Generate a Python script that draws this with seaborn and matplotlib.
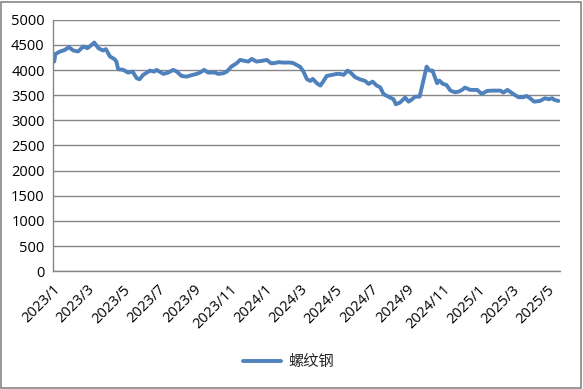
import pandas as pd
import matplotlib
matplotlib.use("Agg")
import matplotlib.pyplot as plt
import matplotlib.dates as mdates
import seaborn as sns

# rebar price (螺纹钢)
dates = [
    "2023-01-03", "2023-01-05", "2023-01-13", "2023-01-21", "2023-01-28", "2023-02-05",
    "2023-02-13", "2023-02-22", "2023-03-01", "2023-03-05", "2023-03-13", "2023-03-20",
    "2023-03-28", "2023-04-02", "2023-04-09", "2023-04-17", "2023-04-20", "2023-04-23",
    "2023-05-02", "2023-05-10", "2023-05-18", "2023-05-25", "2023-05-30", "2023-06-05",
    "2023-06-17", "2023-06-24", "2023-06-28", "2023-07-10", "2023-07-18", "2023-07-27",
    "2023-08-02", "2023-08-10", "2023-08-19", "2023-08-27", "2023-09-05", "2023-09-11",
    "2023-09-18", "2023-09-25", "2023-10-07", "2023-10-12", "2023-10-21", "2023-10-27",
    "2023-11-04", "2023-11-13", "2023-11-19", "2023-11-27", "2023-12-03", "2023-12-09",
    "2023-12-17", "2023-12-26", "2024-01-04", "2024-01-11", "2024-01-16", "2024-01-24",
    "2024-02-01", "2024-02-13", "2024-02-19", "2024-02-27", "2024-03-01", "2024-03-07",
    "2024-03-13", "2024-03-19", "2024-03-23", "2024-03-30", "2024-04-05", "2024-04-10",
    "2024-04-16", "2024-04-25", "2024-05-03", "2024-05-09", "2024-05-15", "2024-05-22",
    "2024-05-27", "2024-06-04", "2024-06-12", "2024-06-21", "2024-06-27", "2024-07-04",
    "2024-07-11", "2024-07-17", "2024-07-23", "2024-07-31", "2024-08-09", "2024-08-13",
    "2024-08-20", "2024-08-29", "2024-09-04", "2024-09-10", "2024-09-15", "2024-09-23",
    "2024-10-05", "2024-10-10", "2024-10-15", "2024-10-23", "2024-10-27", "2024-11-02",
    "2024-11-08", "2024-11-15", "2024-11-23", "2024-11-29", "2024-12-05", "2024-12-10",
    "2024-12-19", "2024-12-31", "2025-01-08", "2025-01-17", "2025-01-28", "2025-02-09",
    "2025-02-14", "2025-02-21", "2025-03-03", "2025-03-12", "2025-03-20", "2025-03-26",
    "2025-04-01", "2025-04-08", "2025-04-18", "2025-04-27", "2025-05-03", "2025-05-09",
    "2025-05-13", "2025-05-20",
]
prices = [
    4170, 4320, 4370, 4400, 4455, 4390,
    4370, 4470, 4436, 4470, 4548, 4436,
    4390, 4416, 4270, 4216, 4170, 4018,
    4004, 3951, 3970, 3838, 3818, 3904,
    3990, 3970, 4004, 3924, 3951, 4004,
    3970, 3884, 3870, 3898, 3924, 3951,
    4004, 3951, 3951, 3924, 3938, 3970,
    4070, 4137, 4203, 4183, 4170, 4223,
    4170, 4183, 4203, 4137, 4137, 4157,
    4150, 4150, 4137, 4084, 4070, 3970,
    3818, 3785, 3825, 3739, 3692, 3771,
    3884, 3904, 3924, 3924, 3904, 3990,
    3951, 3858, 3818, 3785, 3725, 3771,
    3692, 3659, 3520, 3472, 3420, 3320,
    3353, 3452, 3373, 3420, 3472, 3472,
    4070, 3990, 3990, 3739, 3791, 3725,
    3705, 3592, 3559, 3572, 3606, 3652,
    3606, 3606, 3526, 3586, 3592, 3592,
    3552, 3606, 3526, 3460, 3460, 3486,
    3440, 3373, 3386, 3440, 3420, 3440,
    3406, 3386,
]
series_name = "螺纹钢"
y_ticks = list(range(0, 5001, 500))

df = pd.DataFrame({"date": pd.to_datetime(dates), "price": prices, "series": series_name})

sns.set_theme(style="white")
plt.rcParams["font.family"] = ["Open Sans", "Noto Sans CJK SC", "DejaVu Sans"]

fig = plt.figure(figsize=(5.83, 3.89), dpi=100)
ax = fig.add_axes([0.091, 0.303, 0.870, 0.646])

sns.lineplot(data=df, x="date", y="price", hue="series", palette=["#4F81BD"],
             linewidth=2.8, ax=ax)

ax.set_xlim(pd.Timestamp("2023-01-01"), pd.Timestamp("2025-05-23"))
ax.set_ylim(0, 5000)
ax.set_yticks(y_ticks)
ax.xaxis.set_major_locator(mdates.MonthLocator(bymonth=[1, 3, 5, 7, 9, 11]))
ax.xaxis.set_major_formatter(
    matplotlib.ticker.FuncFormatter(lambda v, p: f"{mdates.num2date(v).year}/{mdates.num2date(v).month}"))
ax.set_xlabel("")
ax.set_ylabel("")
ax.grid(axis="y", color="#868686", linewidth=1.0)
ax.set_axisbelow(True)
for s in ["top", "right"]:
    ax.spines[s].set_visible(False)
for s in ["left", "bottom"]:
    ax.spines[s].set_color("#868686")
    ax.spines[s].set_linewidth(1.0)
ax.tick_params(axis="both", which="major", direction="out", length=4, width=1,
               color="#868686", labelsize=10.5, labelcolor="black", pad=2)
ax.tick_params(axis="x", length=5, pad=3)
plt.setp(ax.get_xticklabels(), rotation=45, ha="right", rotation_mode="anchor")

ax.legend_.remove()
fig.legend(*ax.get_legend_handles_labels(), loc="center", bbox_to_anchor=(0.495, 0.07),
           frameon=False, prop={"family": ["Noto Sans CJK SC"], "size": 11},
           handlelength=2.5, handletextpad=0.5)

fig.patches.append(plt.Rectangle((0.002, 0.002), 0.994, 0.994, transform=fig.transFigure,
                                 fill=False, edgecolor="#868686", linewidth=1.2))

fig.savefig("out.png", dpi=100)
